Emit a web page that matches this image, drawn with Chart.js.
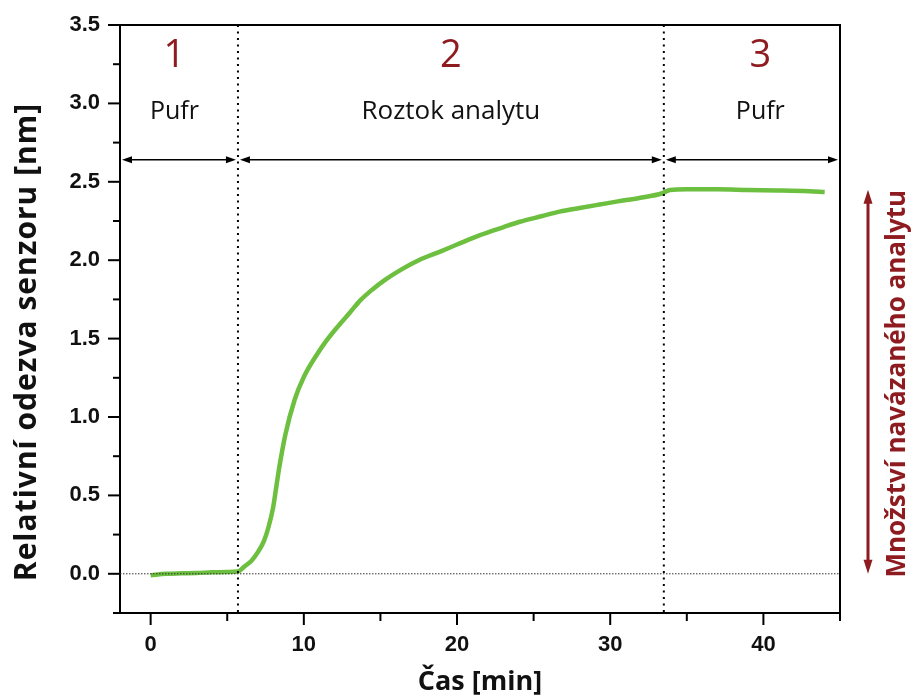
<!DOCTYPE html>
<html>
<head>
<meta charset="utf-8">
<script src="https://cdn.jsdelivr.net/npm/chart.js@4/dist/chart.umd.min.js"></script>
<style>
  html, body { margin: 0; padding: 0; background: #fff; }
  #wrap { width: 913px; height: 699px; position: relative; }
</style>
</head>
<body>
<div id="wrap"><canvas id="chart"></canvas></div>
<script>
// sensor response curve: time [min] vs relative shift [nm]
const timeMin = [0, 1, 2, 3, 4, 5, 5.7, 6.1, 6.6, 7.0, 7.4, 7.7, 8.0, 8.2, 8.4, 8.8, 9.4, 10.0,
  10.9, 11.5, 12.2, 13.0, 13.7, 14.5, 15.3, 16.3, 17.5, 18.9, 20.0, 21.5, 23.0, 24.1, 25.5,
  26.7, 28.0, 29.3, 30.5, 31.9, 33.4, 33.9, 35, 37, 39, 41, 43, 44];
const response = [-0.01, 0.0, 0.003, 0.005, 0.01, 0.012, 0.015, 0.045, 0.085, 0.138, 0.21, 0.3,
  0.425, 0.553, 0.68, 0.89, 1.11, 1.255, 1.405, 1.49, 1.575, 1.665, 1.745, 1.815, 1.875, 1.937,
  2.0, 2.055, 2.1, 2.16, 2.21, 2.245, 2.28, 2.31, 2.333, 2.355, 2.375, 2.397, 2.427, 2.448,
  2.452, 2.452, 2.448, 2.445, 2.44, 2.435];

const xTicks = [0, 10, 20, 30, 40];
const xMinorTicks = [5, 15, 25, 35, 45];
const yTicks = [0, 0.5, 1.0, 1.5, 2.0, 2.5, 3.0, 3.5];
const yMinorTicks = [-0.25, 0.25, 0.75, 1.25, 1.75, 2.25, 2.75, 3.25];

// phase boundaries and labels
const phaseEdges = [5.7, 33.5];
const phaseNumbers = ["1", "2", "3"];
const phaseNames = ["Pufr", "Roztok analytu", "Pufr"];
const phaseCenters = [1.55, 19.6, 39.8];
const arrowLevel = 2.64;

const Y_TITLE = "Relativní odezva senzoru [nm]";
const SIDE_TITLE = "Množství navázaného analytu";

const DARK_RED = "#8e1b1f";
const GREEN = "#6cbf3f";

function arrowHead(ctx, x, y, dir, len, half) {
  // dir: unit vector the head points to
  const [dx, dy] = dir;
  ctx.beginPath();
  ctx.moveTo(x, y);
  ctx.lineTo(x - dx * len - dy * half, y - dy * len + dx * half);
  ctx.lineTo(x - dx * len + dy * half, y - dy * len - dx * half);
  ctx.closePath();
  ctx.fill();
}

const decorations = {
  id: "decorations",
  afterDraw(chart) {
    const { ctx, chartArea: a, scales: { x, y } } = chart;
    ctx.save();

    // frame top / right
    ctx.strokeStyle = "#000";
    ctx.lineWidth = 2;
    ctx.beginPath();
    ctx.moveTo(a.left, a.top);
    ctx.lineTo(a.right, a.top);
    ctx.lineTo(a.right, a.bottom);
    ctx.stroke();

    // tick marks, outward
    const tick = (x0, y0, x1, y1) => { ctx.beginPath(); ctx.moveTo(x0, y0); ctx.lineTo(x1, y1); ctx.stroke(); };
    yTicks.forEach(v => { const p = y.getPixelForValue(v); tick(a.left - 12, p, a.left, p); });
    yMinorTicks.forEach(v => { const p = y.getPixelForValue(v); tick(a.left - 7, p, a.left, p); });
    xTicks.forEach(v => { const p = x.getPixelForValue(v); tick(p, a.bottom, p, a.bottom + 12); });
    xMinorTicks.forEach(v => { const p = x.getPixelForValue(v); tick(p, a.bottom, p, a.bottom + 8); });

    // zero baseline
    ctx.lineWidth = 1;
    ctx.strokeStyle = "#333";
    ctx.setLineDash([1.5, 1.5]);
    const y0 = y.getPixelForValue(0);
    tick(a.left, y0, a.right, y0);

    // phase boundaries
    ctx.lineWidth = 2;
    ctx.strokeStyle = "#000";
    ctx.setLineDash([2, 4.5]);
    phaseEdges.forEach(t => { const p = x.getPixelForValue(t); tick(p, a.top, p, a.bottom); });
    ctx.setLineDash([]);

    // double arrows for each phase
    const ya = y.getPixelForValue(arrowLevel);
    const bounds = [x.min, ...phaseEdges, x.max];
    ctx.lineWidth = 1.5;
    ctx.fillStyle = "#000";
    for (let i = 0; i < bounds.length - 1; i++) {
      const xl = x.getPixelForValue(bounds[i]) + 2;
      const xr = x.getPixelForValue(bounds[i + 1]) - 2;
      tick(xl + 4, ya, xr - 4, ya);
      arrowHead(ctx, xl, ya, [-1, 0], 10, 3.5);
      arrowHead(ctx, xr, ya, [1, 0], 10, 3.5);
    }

    // phase labels
    ctx.textAlign = "center";
    ctx.textBaseline = "middle";
    phaseCenters.forEach((t, i) => {
      const px = x.getPixelForValue(t);
      ctx.fillStyle = DARK_RED;
      ctx.font = "38px 'Open Sans'";
      ctx.fillText(phaseNumbers[i], px, a.top + 31);
      ctx.fillStyle = "#111";
      ctx.font = (i === 1 ? "26px" : "25px") + " 'Open Sans'";
      ctx.fillText(phaseNames[i], px, a.top + 87);
    });

    // y axis title, sits a little below the axis centre
    ctx.save();
    ctx.translate(27, 342);
    ctx.rotate(-Math.PI / 2);
    ctx.fillStyle = "#111";
    ctx.font = "bold 30px 'Open Sans'";
    ctx.letterSpacing = "1px";
    ctx.fillText(Y_TITLE, 0, 0);
    ctx.restore();

    // bound analyte amount indicator
    const ax = a.right + 28;
    const top = y.getPixelForValue(2.45);
    const bot = y.getPixelForValue(0.0);
    ctx.strokeStyle = DARK_RED;
    ctx.fillStyle = DARK_RED;
    ctx.lineWidth = 3;
    tick(ax, top + 10, ax, bot - 10);
    arrowHead(ctx, ax, top, [0, -1], 14, 4.5);
    arrowHead(ctx, ax, bot, [0, 1], 14, 4.5);

    ctx.translate(a.right + 58, (top + bot) / 2 + 2);
    ctx.rotate(-Math.PI / 2);
    ctx.font = "bold 26px 'Open Sans'";
    ctx.fillText(SIDE_TITLE, 0, 0);

    ctx.restore();
  }
};

const points = timeMin.map((t, i) => ({ x: t, y: response[i] }));

new Chart(document.getElementById("chart"), {
  type: "line",
  data: {
    datasets: [{
      data: points,
      borderColor: GREEN,
      borderWidth: 4.5,
      pointRadius: 0,
      cubicInterpolationMode: "monotone",
      fill: false
    }]
  },
  options: {
    responsive: true,
    maintainAspectRatio: false,
    animation: false,
    layout: { padding: { top: 25, right: 73, left: 0, bottom: 0 } },
    plugins: { legend: { display: false }, tooltip: { enabled: false } },
    scales: {
      x: {
        type: "linear",
        min: -2,
        max: 45,
        afterBuildTicks: s => { s.ticks = xTicks.map(v => ({ value: v })); },
        afterFit: s => { s.height = 86; s.paddingLeft = 0; s.paddingRight = 0; },
        grid: { display: false, drawTicks: false },
        border: { display: true, color: "#000", width: 2 },
        ticks: {
          padding: 19,
          color: "#111",
          font: { family: "'Liberation Sans', Arial", weight: "bold", size: 22 }
        },
        title: {
          display: true,
          text: "Čas [min]",
          color: "#111",
          padding: { top: 0, bottom: 0 },
          font: { family: "'Open Sans'", weight: "bold", size: 27 }
        }
      },
      y: {
        min: -0.25,
        max: 3.5,
        afterBuildTicks: s => { s.ticks = yTicks.map(v => ({ value: v })); },
        afterFit: s => { s.width = 120; s.paddingTop = 0; s.paddingBottom = 0; },
        grid: { display: false, drawTicks: false },
        border: { display: true, color: "#000", width: 2 },
        ticks: {
          padding: 20,
          color: "#111",
          callback: v => v.toFixed(1),
          font: { family: "'Liberation Sans', Arial", weight: "bold", size: 22 }
        }
      }
    }
  },
  plugins: [decorations]
});
</script>
</body>
</html>
